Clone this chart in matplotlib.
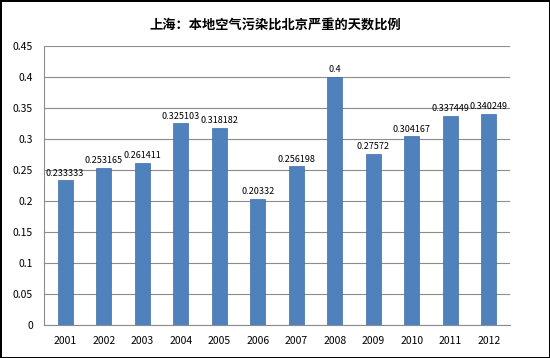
import matplotlib
matplotlib.use("Agg")
import matplotlib.pyplot as plt

plt.rcParams['font.family'] = ['Noto Sans CJK SC', 'DejaVu Sans']

years = ["2001", "2002", "2003", "2004", "2005", "2006",
         "2007", "2008", "2009", "2010", "2011", "2012"]
values = [0.233333, 0.253165, 0.261411, 0.325103, 0.318182, 0.20332,
          0.256198, 0.4, 0.27572, 0.304167, 0.337449, 0.340249]
labels = ["0.233333", "0.253165", "0.261411", "0.325103", "0.318182", "0.20332",
          "0.256198", "0.4", "0.27572", "0.304167", "0.337449", "0.340249"]
yticks = [0, 0.05, 0.1, 0.15, 0.2, 0.25, 0.3, 0.35, 0.4, 0.45]
ytick_labels = ["0", "0.05", "0.1", "0.15", "0.2", "0.25", "0.3", "0.35", "0.4", "0.45"]

fig = plt.figure(figsize=(5.5, 3.58), dpi=100)
fig.patch.set_edgecolor("black")
fig.patch.set_linewidth(2)
ax = fig.add_axes([0.08, 0.092, 0.847, 0.78])

x = range(len(years))
bars = ax.bar(x, values, width=0.39, color="#4F81BD", edgecolor="#3F6FA8",
              linewidth=0.5, zorder=3)
for b, lab in zip(bars, labels):
    ax.text(b.get_x() + b.get_width() / 2, b.get_height() + 0.004, lab,
            ha="center", va="bottom", fontsize=6.5)

ax.set_ylim(0, 0.45)
ax.set_xlim(-0.55, len(years) - 0.45)
ax.set_yticks(yticks)
ax.set_yticklabels(ytick_labels, fontsize=7.5)
ax.set_xticks(list(x))
ax.set_xticklabels(years, fontsize=7.5)
ax.tick_params(length=0, pad=8)
ax.yaxis.grid(True, color="#8C8C8C", linewidth=0.8, zorder=0)
for s in ["top", "right"]:
    ax.spines[s].set_visible(False)
ax.spines["left"].set_color("#8C8C8C")
ax.spines["bottom"].set_color("#8C8C8C")

fig.suptitle("上海：本地空气污染比北京严重的天数比例", y=0.95, fontsize=9.5,
             fontweight="bold")

fig.savefig("out.png", dpi=100, edgecolor=fig.get_edgecolor())
